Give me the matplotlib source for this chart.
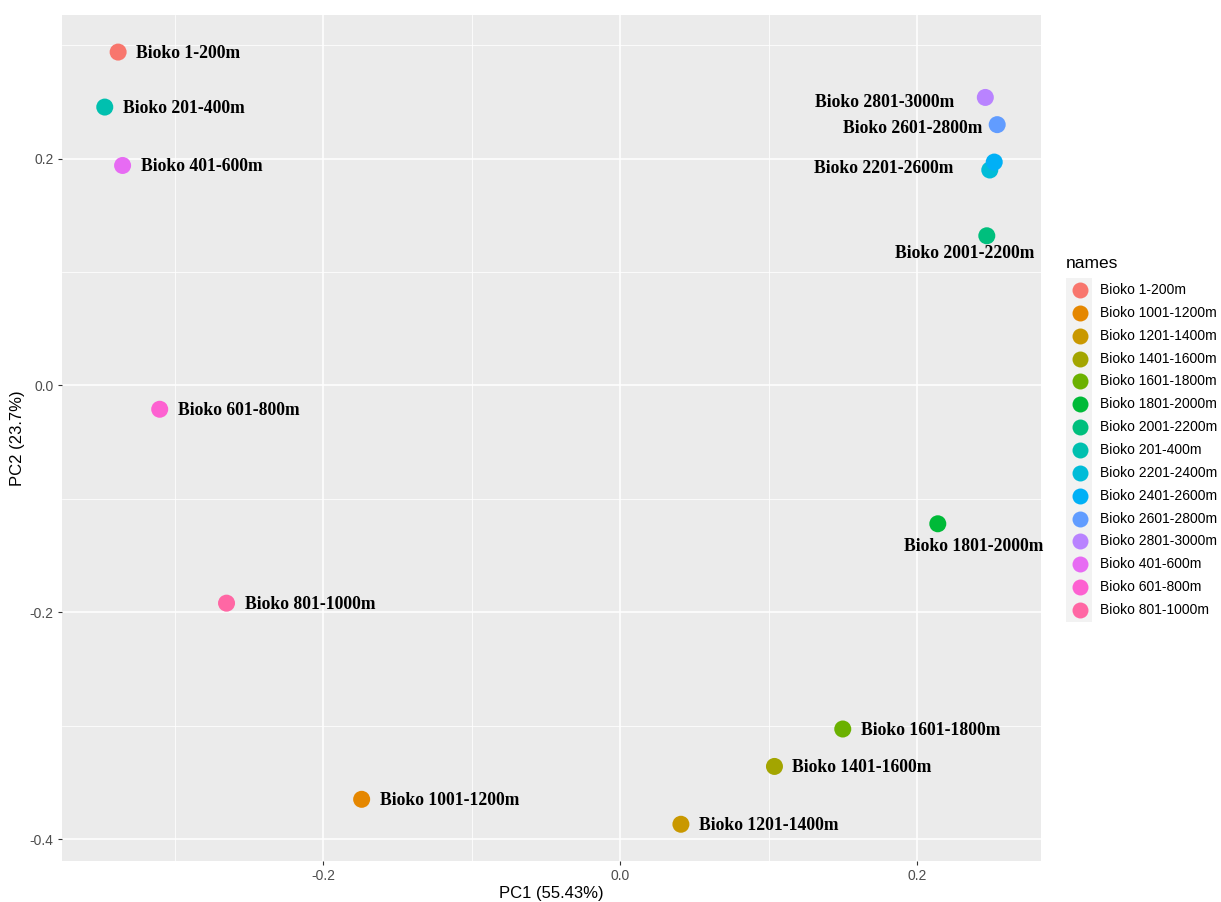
import matplotlib
matplotlib.use("Agg")
import matplotlib.pyplot as plt
from matplotlib.patches import Rectangle
from matplotlib.lines import Line2D

plt.rcParams["font.family"] = ["Liberation Sans", "DejaVu Sans"]

names = ["Bioko 1-200m", "Bioko 1001-1200m", "Bioko 1201-1400m", "Bioko 1401-1600m",
         "Bioko 1601-1800m", "Bioko 1801-2000m", "Bioko 2001-2200m", "Bioko 201-400m",
         "Bioko 2201-2400m", "Bioko 2401-2600m", "Bioko 2601-2800m", "Bioko 2801-3000m",
         "Bioko 401-600m", "Bioko 601-800m", "Bioko 801-1000m"]
pc1 = [-0.338, -0.174, 0.041, 0.104, 0.150, 0.214, 0.247, -0.347,
       0.249, 0.252, 0.254, 0.246, -0.335, -0.310, -0.265]
pc2 = [0.294, -0.365, -0.387, -0.336, -0.303, -0.122, 0.132, 0.2455,
       0.190, 0.197, 0.230, 0.254, 0.194, -0.021, -0.192]
# point labels as drawn (2201-2400 and 2401-2600 share one label)
labels = ["Bioko 1-200m", "Bioko 1001-1200m", "Bioko 1201-1400m", "Bioko 1401-1600m",
          "Bioko 1601-1800m", "Bioko 1801-2000m", "Bioko 2001-2200m", "Bioko 201-400m",
          "Bioko 2201-2600m", "", "Bioko 2601-2800m", "Bioko 2801-3000m",
          "Bioko 401-600m", "Bioko 601-800m", "Bioko 801-1000m"]
colors = ["#F8766D", "#E58700", "#C99800", "#A3A500", "#6BB100", "#00BA38", "#00BF7D",
          "#00C0AF", "#00BCD8", "#00B0F6", "#619CFF", "#B983FF", "#E76BF3", "#FD61D1", "#FF67A4"]

xticks = [-0.2, 0.0, 0.2]
yticks = [-0.4, -0.2, 0.0, 0.2]

# label placement (offset in pixels from point, alignment)
placement = {
    "Bioko 1801-2000m": ((36, -23), "center"),
    "Bioko 2001-2200m": ((-22, -18), "center"),
    "Bioko 2201-2600m": ((-36, 2), "right"),
    "Bioko 2601-2800m": ((-15, -4), "right"),
    "Bioko 2801-3000m": ((-31, -5), "right"),
}

W, H = 1221, 902
fig = plt.figure(figsize=(W / 100, H / 100), dpi=100)
L, R, T, B = 62, 1041, 15, 861
ax = fig.add_axes([L / W, 1 - B / H, (R - L) / W, (B - T) / H])
ax.set_facecolor("#EBEBEB")
for s in ax.spines.values():
    s.set_visible(False)

ax.set_xlim(-0.3758, 0.2835)
ax.set_ylim(-0.4194, 0.3267)
ax.set_xticks(xticks)
ax.set_xticklabels(["-0.2", "0.0", "0.2"])
ax.set_yticks(yticks)
ax.set_yticklabels(["-0.4", "-0.2", "0.0", "0.2"])
ax.set_xticks([-0.3, -0.1, 0.1], minor=True)
ax.set_yticks([-0.3, -0.1, 0.1, 0.3], minor=True)
ax.grid(True, which="major", color="white", linewidth=1.1)
ax.grid(True, which="minor", color="white", linewidth=0.55)
ax.set_axisbelow(True)
ax.tick_params(which="major", length=3, width=0.8, color="#333333", labelcolor="#4D4D4D",
               labelsize=10, pad=3)
ax.tick_params(which="minor", length=0)

ax.set_xlabel("PC1 (55.43%)", fontsize=12, color="black", labelpad=2)
ax.set_ylabel("PC2 (23.7%)", fontsize=12, color="black", labelpad=3)

ax.scatter(pc1, pc2, c=colors, s=150, edgecolors="none", zorder=3)

for x, y, lab in zip(pc1, pc2, labels):
    if not lab:
        continue
    (dx, dy), ha = placement.get(lab, ((18, -1), "left"))
    ax.annotate(lab, (x, y), xytext=(dx * 0.72, dy * 0.72), textcoords="offset points",
                ha=ha, va="center", fontsize=12.7, fontweight="bold",
                family="Liberation Serif", color="black", zorder=4)

# legend (drawn manually in figure pixel coordinates)
def fx(px):
    return px / W

def fy(py):
    return 1 - py / H

fig.text(fx(1066), fy(264), "names", fontsize=12.5, ha="left", va="center", color="black")
fig.patches.append(Rectangle((fx(1066), fy(622)), 26 / W, 344 / H,
                             transform=fig.transFigure, facecolor="#F2F2F2",
                             edgecolor="none", zorder=0))
for i, (nm, c) in enumerate(zip(names, colors)):
    yy = 290 + i * 22.86
    fig.add_artist(Line2D([fx(1080)], [fy(yy)], marker="o", linestyle="none",
                          markersize=11.5, markerfacecolor=c, markeredgecolor="none",
                          transform=fig.transFigure))
    fig.text(fx(1100), fy(yy), nm, fontsize=10, ha="left", va="center", color="black")

fig.savefig("out.png", dpi=100)
